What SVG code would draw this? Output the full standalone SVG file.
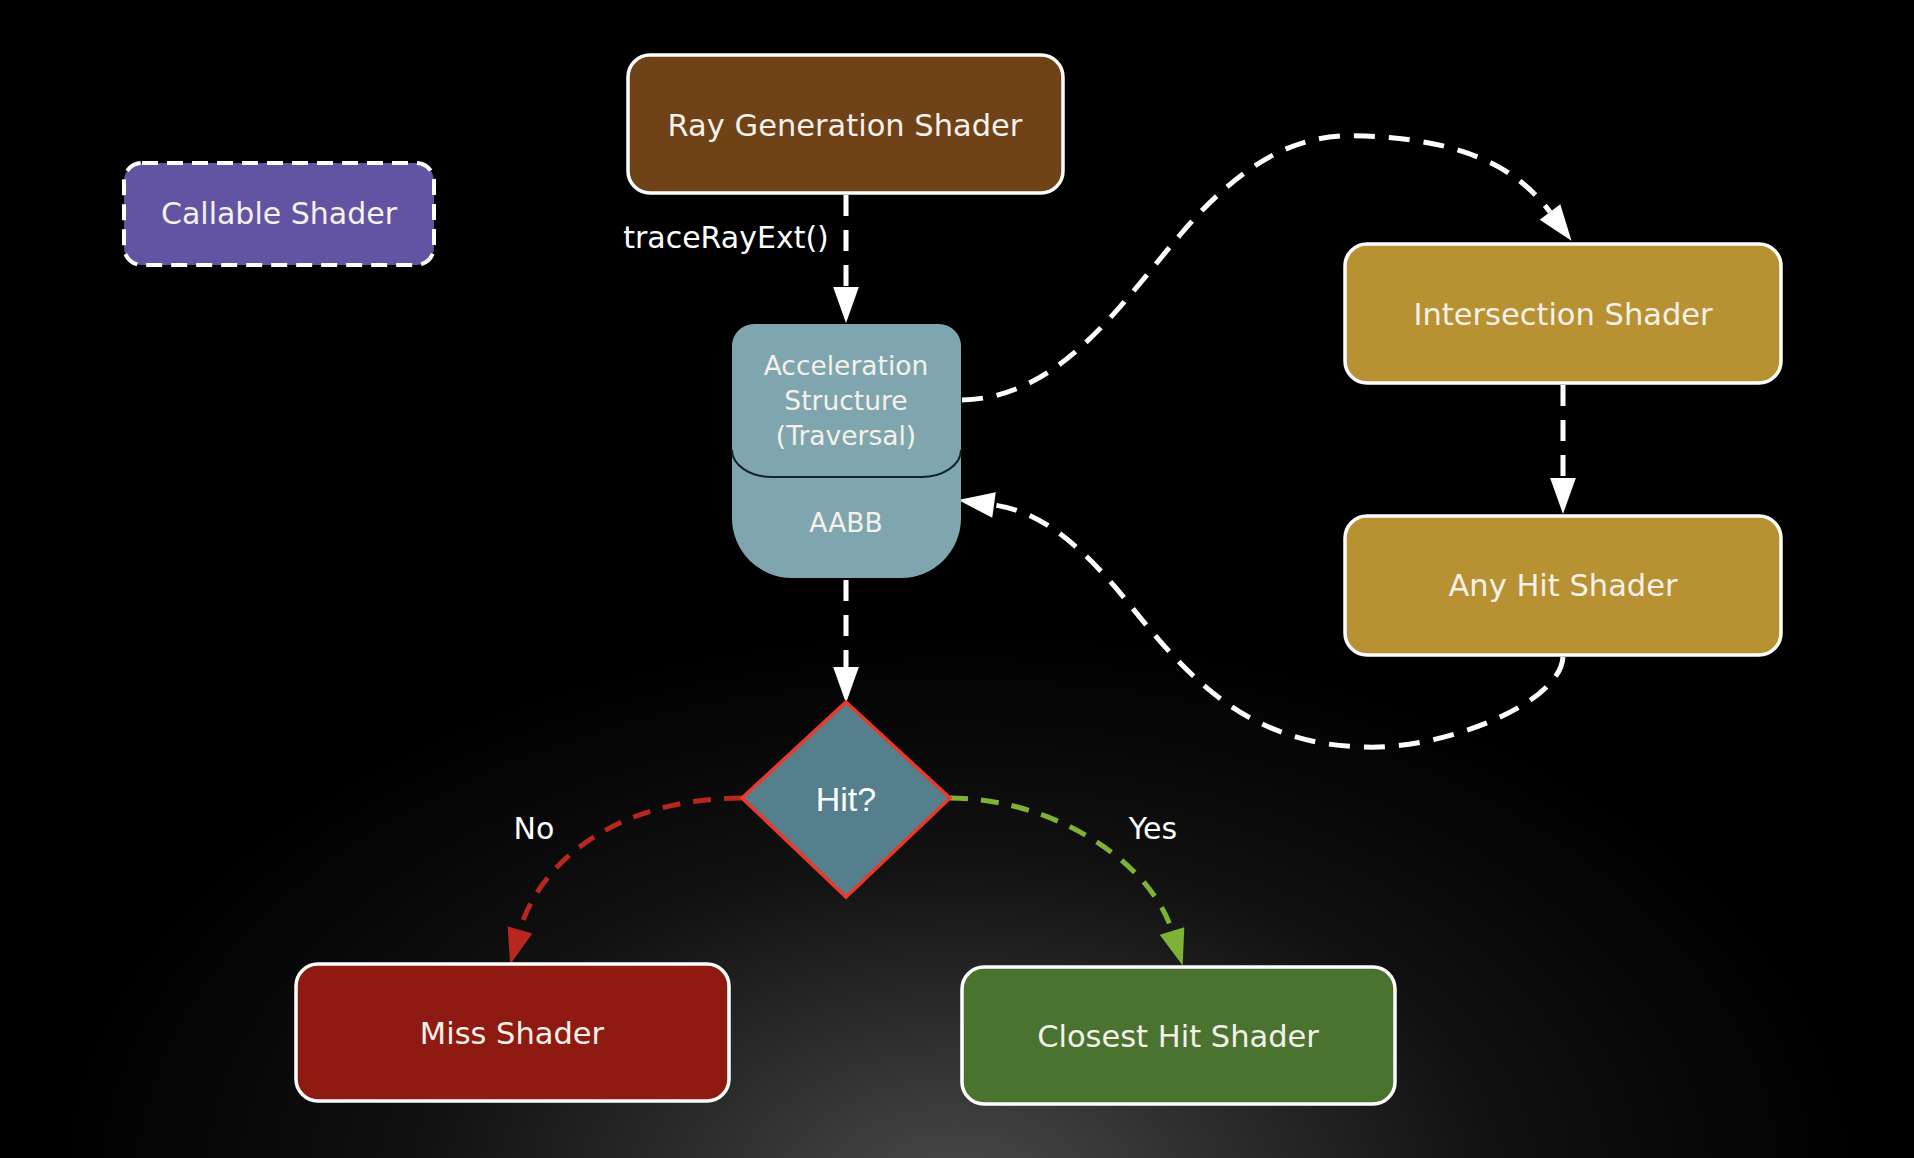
<svg xmlns="http://www.w3.org/2000/svg" width="1914" height="1158" viewBox="0 0 1914 1158">
<defs>
<radialGradient id="bg" gradientUnits="userSpaceOnUse" cx="958" cy="1190" r="900" gradientTransform="translate(0 1190) scale(1 0.62) translate(0 -1190)">
<stop offset="0" stop-color="#4a4a4a"/>
<stop offset="0.3" stop-color="#2c2c2c"/>
<stop offset="0.6" stop-color="#111111"/>
<stop offset="1" stop-color="#000000"/>
</radialGradient>
<marker id="aw" markerUnits="userSpaceOnUse" markerWidth="36" markerHeight="26" viewBox="0 0 35 25" refX="0" refY="12.5" orient="auto" overflow="visible"><path d="M0,0 L35,12.5 L0,25 Z" fill="#ffffff"/></marker>
<marker id="ar" markerUnits="userSpaceOnUse" markerWidth="36" markerHeight="26" viewBox="0 0 35 25" refX="0" refY="12.5" orient="auto" overflow="visible"><path d="M0,0 L35,12.5 L0,25 Z" fill="#b8271e"/></marker>
<marker id="ag" markerUnits="userSpaceOnUse" markerWidth="36" markerHeight="26" viewBox="0 0 35 25" refX="0" refY="12.5" orient="auto" overflow="visible"><path d="M0,0 L35,12.5 L0,25 Z" fill="#7fb234"/></marker>
</defs>
<style>
.box{stroke:#ffffff;stroke-width:3.5}
.t{font-family:"DejaVu Sans",Verdana,sans-serif;fill:#f4f1ea;text-anchor:middle}
.big{font-size:30.5px}
.mid{font-size:26.5px}
.lbl{font-family:"DejaVu Sans",Verdana,sans-serif;fill:#ffffff;font-size:30px}
.cw{fill:none;stroke:#ffffff;stroke-width:5;stroke-dasharray:21 14}
.cr{fill:none;stroke:#b8271e;stroke-width:5;stroke-dasharray:18 13}
.cg{fill:none;stroke:#7fb234;stroke-width:5;stroke-dasharray:18 13}
</style>
<rect x="0" y="0" width="1914" height="1158" fill="url(#bg)"/>

<g id="connectors">
<path class="cw" d="M846,195 L846,287" marker-end="url(#aw)"/>
<path class="cw" d="M846,580 L846,667" marker-end="url(#aw)"/>
<path class="cw" d="M1563,385 L1563,478" marker-end="url(#aw)"/>
<path class="cw" d="M962,400 C1060,398 1120,305 1180,235 C1260,140 1320,134 1365,136 C1460,140 1515,165 1550,212" marker-end="url(#aw)"/>
<path class="cw" d="M1563,657 C1560,705 1440,750 1365,747 C1250,745 1190,680 1130,605 C1070,530 1030,510 994,505" marker-end="url(#aw)"/>
<path class="cr" d="M742,798 C620,798 540,860 520,930" marker-end="url(#ar)"/>
<path class="cg" d="M950,798 C1050,798 1150,860 1172,931" marker-end="url(#ag)"/>
<text class="lbl" x="726" y="248" text-anchor="middle">traceRayExt()</text>
<text class="lbl" x="534" y="839" text-anchor="middle">No</text>
<text class="lbl" x="1153" y="839" text-anchor="middle">Yes</text>
</g>

<g id="raygen">
<rect class="box" x="628" y="55" width="435" height="138" rx="22" fill="#6f4218"/>
<text class="t big" x="845" y="136">Ray Generation Shader</text>
</g>

<g id="callable">
<rect x="124" y="163" width="310" height="102" rx="18" fill="#6354a3" stroke="#ffffff" stroke-width="4" stroke-dasharray="16 9"/>
<text class="t" x="279" y="224" font-size="30">Callable Shader</text>
</g>

<g id="accel">
<path d="M732,346 A22,22 0 0 1 754,324 L939,324 A22,22 0 0 1 961,346 L961,518 A60,60 0 0 1 901,578 L792,578 A60,60 0 0 1 732,518 Z" fill="#7fa6ae"/>
<path d="M732,450 A40,27 0 0 0 772,477 L921,477 A40,27 0 0 0 961,450" fill="none" stroke="#15232a" stroke-width="2"/>
<text class="t mid" x="846" y="375">Acceleration</text>
<text class="t mid" x="846" y="410">Structure</text>
<text class="t mid" x="846" y="445">(Traversal)</text>
<text class="t mid" x="846" y="532">AABB</text>
</g>

<g id="intersection">
<rect class="box" x="1345" y="244" width="436" height="139" rx="22" fill="#b89133"/>
<text class="t big" x="1563" y="325">Intersection Shader</text>
</g>

<g id="anyhit">
<rect class="box" x="1345" y="516" width="436" height="139" rx="22" fill="#b89133"/>
<text class="t big" x="1563" y="596">Any Hit Shader</text>
</g>

<g id="hit">
<path d="M846,702 L950,798 L846,897 L742,798 Z" fill="#557f8c" stroke="#e8392a" stroke-width="3.5"/>
<text x="846" y="811" font-family="'Liberation Sans',Arial,sans-serif" font-size="34" fill="#ffffff" text-anchor="middle">Hit?</text>
</g>

<g id="miss">
<rect class="box" x="296" y="964" width="433" height="137" rx="22" fill="#8f1a12"/>
<text class="t big" x="512" y="1044">Miss Shader</text>
</g>

<g id="closest">
<rect class="box" x="962" y="967" width="433" height="137" rx="22" fill="#4a7330"/>
<text class="t big" x="1178" y="1047">Closest Hit Shader</text>
</g>
</svg>
